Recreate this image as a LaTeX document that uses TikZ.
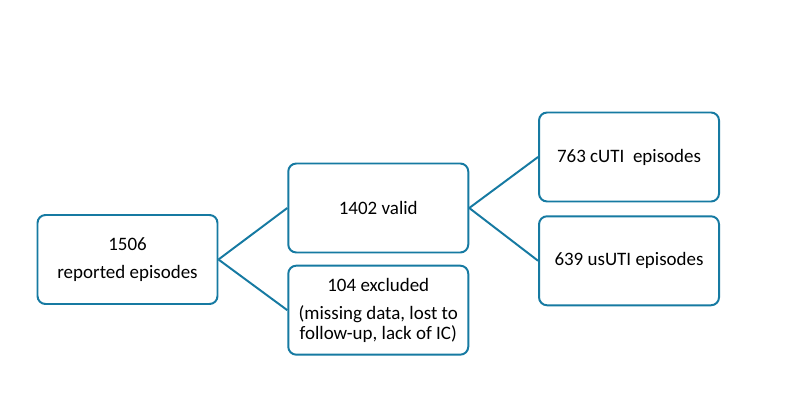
\documentclass[tikz,border=0pt]{standalone}
\usepackage{fontspec}
\setmainfont{Carlito}
\usetikzlibrary{positioning}
\definecolor{AzulPetroleo}{RGB}{22,122,162}
\tikzset{
  cajabox/.style={draw=AzulPetroleo, line width=1.4pt, rounded corners=0.2cm, fill=white,
    align=center, minimum width=4.5cm, minimum height=2.225cm,
    font=\fontsize{13.5}{14.2}\selectfont, inner sep=3pt},
  ramaline/.style={line width=1.4pt, AzulPetroleo},
}
\begin{document}
\begin{tikzpicture}
    \useasboundingbox (0,0) rectangle (20,10.125);
    \node[cajabox] (total) at (3.1875,3.6375) {1506\\[6pt]reported episodes};
    \node[cajabox, right=1.72cm of total, yshift=1.2875cm] (valid) {1402 valid};
    \node[cajabox, below=0.28cm of valid] (excl) {104 excluded\\[6pt](missing data, lost to\\follow-up, lack of IC)};
    \node[cajabox, right=1.72cm of valid, yshift=1.275cm] (cuti) {763 cUTI\ \ episodes};
    \node[cajabox, below=0.32cm of cuti] (usuti) {639 usUTI episodes};
    \draw[ramaline] (total.east) -- (valid.west);
    \draw[ramaline] (total.east) -- (excl.west);
    \draw[ramaline] (valid.east) -- (cuti.west);
    \draw[ramaline] (valid.east) -- (usuti.west);
\end{tikzpicture}
\end{document}
